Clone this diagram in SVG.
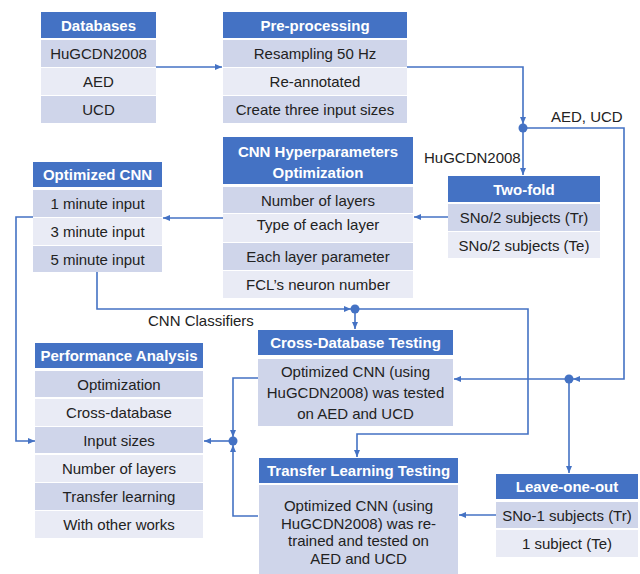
<svg xmlns="http://www.w3.org/2000/svg" width="640" height="574" viewBox="0 0 640 574">
<style>
.hd{fill:#4472C4}
.dk{fill:#CFD5EA}
.lt{fill:#E9EBF5}
text{font-family:"Liberation Sans",Arial,sans-serif;font-size:15px;fill:#222;text-anchor:middle}
text.h{fill:#fff;font-weight:bold}
.ln{fill:none;stroke:#4472C4;stroke-width:1.6}
.dot{fill:#4472C4}
.lbl{text-anchor:start}
</style>
<defs>
<marker id="ar" markerUnits="userSpaceOnUse" markerWidth="8" markerHeight="8" refX="7" refY="4" orient="auto">
<path d="M0,1 L7,4 L0,7 Z" fill="#4472C4"/>
</marker>
</defs>
<rect width="640" height="574" fill="#fff"/>

<g id="databases">
<rect class="hd" x="41" y="12" width="115" height="26"/>
<rect class="dk" x="41" y="40" width="115" height="27"/>
<rect class="lt" x="41" y="68" width="115" height="27"/>
<rect class="dk" x="41" y="96" width="115" height="27"/>
<text class="h" x="98.5" y="30.5">Databases</text>
<text x="98.5" y="59">HuGCDN2008</text>
<text x="98.5" y="87">AED</text>
<text x="98.5" y="115">UCD</text>
</g>

<g id="preprocessing">
<rect class="hd" x="223" y="12" width="184" height="26"/>
<rect class="dk" x="223" y="40" width="184" height="27"/>
<rect class="lt" x="223" y="68" width="184" height="27"/>
<rect class="dk" x="223" y="96" width="184" height="27"/>
<text class="h" x="315" y="30.5">Pre-processing</text>
<text x="315" y="59">Resampling 50 Hz</text>
<text x="315" y="87">Re-annotated</text>
<text x="315" y="115">Create three input sizes</text>
</g>

<g id="twofold">
<rect class="hd" x="448" y="176" width="152" height="26"/>
<rect class="dk" x="448" y="204" width="152" height="27"/>
<rect class="lt" x="448" y="232" width="152" height="26"/>
<text class="h" x="524" y="194.5">Two-fold</text>
<text x="524" y="223">SNo/2 subjects (Tr)</text>
<text x="524" y="250.5">SNo/2 subjects (Te)</text>
</g>

<g id="cnnhyper">
<rect class="hd" x="223" y="137" width="190" height="47"/>
<rect class="dk" x="223" y="187" width="190" height="26"/>
<rect class="lt" x="223" y="214" width="190" height="28"/>
<rect class="dk" x="223" y="243" width="190" height="27"/>
<rect class="lt" x="223" y="271" width="190" height="27"/>
<text class="h" x="318" y="157">CNN Hyperparameters</text>
<text class="h" x="318" y="178">Optimization</text>
<text x="318" y="205.5">Number of layers</text>
<text x="318" y="230">Type of each layer</text>
<text x="318" y="262">Each layer parameter</text>
<text x="318" y="290">FCL’s neuron number</text>
</g>

<g id="optimizedcnn">
<rect class="hd" x="33" y="162" width="129" height="25"/>
<rect class="dk" x="33" y="190" width="129" height="27"/>
<rect class="lt" x="33" y="218" width="129" height="27"/>
<rect class="dk" x="33" y="246" width="129" height="26"/>
<text class="h" x="97.5" y="180">Optimized CNN</text>
<text x="97.5" y="209">1 minute input</text>
<text x="97.5" y="237">3 minute input</text>
<text x="97.5" y="264.5">5 minute input</text>
</g>

<g id="performance">
<rect class="hd" x="35" y="343" width="168" height="25"/>
<rect class="dk" x="35" y="371" width="168" height="26"/>
<rect class="lt" x="35" y="399" width="168" height="27"/>
<rect class="dk" x="35" y="427" width="168" height="26"/>
<rect class="lt" x="35" y="455" width="168" height="27"/>
<rect class="dk" x="35" y="483" width="168" height="27"/>
<rect class="lt" x="35" y="511" width="168" height="27"/>
<text class="h" x="119" y="361">Performance Analysis</text>
<text x="119" y="389.5">Optimization</text>
<text x="119" y="418">Cross-database</text>
<text x="119" y="445.5">Input sizes</text>
<text x="119" y="474">Number of layers</text>
<text x="119" y="502">Transfer learning</text>
<text x="119" y="530">With other works</text>
</g>

<g id="crossdb">
<rect class="hd" x="258" y="330" width="195" height="25"/>
<rect class="dk" x="258" y="359" width="195" height="67"/>
<text class="h" x="355.5" y="348">Cross-Database Testing</text>
<text x="355.5" y="377">Optimized CNN (using</text>
<text x="355.5" y="398">HuGCDN2008) was tested</text>
<text x="355.5" y="419">on AED and UCD</text>
</g>

<g id="transfer">
<rect class="hd" x="259" y="458" width="199" height="25"/>
<rect class="dk" x="259" y="485" width="199" height="89"/>
<text class="h" x="358.5" y="476">Transfer Learning Testing</text>
<text x="358.5" y="511">Optimized CNN (using</text>
<text x="358.5" y="528.5">HuGCDN2008) was re-</text>
<text x="358.5" y="546">trained and tested on</text>
<text x="358.5" y="564">AED and UCD</text>
</g>

<g id="leaveoneout">
<rect class="hd" x="496" y="474" width="142" height="25"/>
<rect class="dk" x="496" y="502" width="142" height="26"/>
<rect class="lt" x="496" y="530" width="142" height="27"/>
<text class="h" x="567" y="492">Leave-one-out</text>
<text x="567" y="520.5">SNo-1 subjects (Tr)</text>
<text x="567" y="548.5">1 subject (Te)</text>
</g>

<g id="connectors">
<path class="ln" d="M156,67 H222" marker-end="url(#ar)"/>
<path class="ln" d="M407,67 H523 V124" marker-end="url(#ar)"/>
<path class="ln" d="M523,128 V175" marker-end="url(#ar)"/>
<path class="ln" d="M523,128 H624 V379 H573" marker-end="url(#ar)"/>
<path class="ln" d="M448,217 H414" marker-end="url(#ar)"/>
<path class="ln" d="M223,218 H163" marker-end="url(#ar)"/>
<path class="ln" d="M33,217 H16 V441 H35" marker-end="url(#ar)"/>
<path class="ln" d="M97,272 V309 H351" marker-end="url(#ar)"/>
<path class="ln" d="M355,309 V329" marker-end="url(#ar)"/>
<path class="ln" d="M355,309 H528 V434 H357 V457" marker-end="url(#ar)"/>
<path class="ln" d="M258,378 H233 V437" marker-end="url(#ar)"/>
<path class="ln" d="M258,516 H233 V445" marker-end="url(#ar)"/>
<path class="ln" d="M233,441 H204" marker-end="url(#ar)"/>
<path class="ln" d="M569,379 H454" marker-end="url(#ar)"/>
<path class="ln" d="M569,379 V473" marker-end="url(#ar)"/>
<path class="ln" d="M496,515 H459" marker-end="url(#ar)"/>
<circle class="dot" cx="523" cy="128" r="4.5"/>
<circle class="dot" cx="355" cy="309" r="4.5"/>
<circle class="dot" cx="233" cy="441" r="4.5"/>
<circle class="dot" cx="569" cy="379" r="4.5"/>
<text class="lbl" x="551" y="122">AED, UCD</text>
<text class="lbl" x="424" y="163">HuGCDN2008</text>
<text class="lbl" x="148" y="326">CNN Classifiers</text>
</g>
</svg>
